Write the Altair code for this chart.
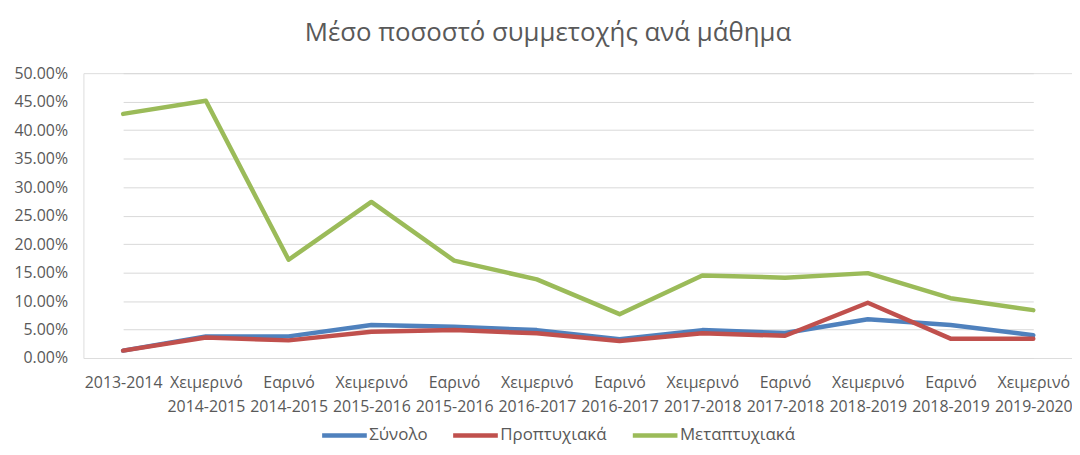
import altair as alt
import pandas as pd

categories = ["2013-2014", "Χειμερινό 2014-2015", "Εαρινό 2014-2015", "Χειμερινό 2015-2016",
              "Εαρινό 2015-2016", "Χειμερινό 2016-2017", "Εαρινό 2016-2017", "Χειμερινό 2017-2018",
              "Εαρινό 2017-2018", "Χειμερινό 2018-2019", "Εαρινό 2018-2019", "Χειμερινό 2019-2020"]
series_names = ["Σύνολο", "Προπτυχιακά", "Μεταπτυχιακά"]
synolo = [0.013, 0.038, 0.038, 0.058, 0.055, 0.049, 0.033, 0.049, 0.044, 0.068, 0.058, 0.040]
proptyxiaka = [0.013, 0.036, 0.031, 0.046, 0.049, 0.0435, 0.030, 0.0435, 0.039, 0.097, 0.034, 0.034]
metaptyxiaka = [0.4285, 0.4515, 0.1725, 0.274, 0.171, 0.138, 0.077, 0.145, 0.141, 0.149, 0.105, 0.084]
colors = ["#4F81BD", "#C0504D", "#9BBB59"]
y_ticks = [0.0, 0.05, 0.10, 0.15, 0.20, 0.25, 0.30, 0.35, 0.40, 0.45, 0.50]

rows = []
for name, vals in zip(series_names, [synolo, proptyxiaka, metaptyxiaka]):
    for i, (c, v) in enumerate(zip(categories, vals)):
        rows.append({"cat": c, "series": name, "value": v, "idx": i})
df = pd.DataFrame(rows)

FONT = "Open Sans"
GREY = "#595959"

x_enc = alt.X("cat:N", sort=categories, title=None,
              scale=alt.Scale(type="point", range=[40, 957], padding=0),
              axis=alt.Axis(labelAngle=0, labelExpr="split(datum.label, ' ')",
                            labelFont=FONT, labelFontSize=16, labelColor=GREY,
                            labelLineHeight=24, labelPadding=17, ticks=False,
                            domain=True, domainColor="#D9D9D9", labelOverlap=False,
                            labelBound=False, grid=False))
y_enc = alt.Y("value:Q", title=None,
              scale=alt.Scale(domain=[0, 0.5], nice=False),
              axis=alt.Axis(values=y_ticks, format=".2%", labelFont=FONT, labelFontSize=16,
                            labelColor=GREY, labelPadding=16, ticks=False, domain=False,
                            grid=True, gridColor="#D9D9D9", gridWidth=1))
color_enc = alt.Color("series:N",
                      scale=alt.Scale(domain=series_names, range=colors),
                      legend=alt.Legend(title=None, orient="none", direction="horizontal",
                                        legendX=238, legendY=340,
                                        symbolType="stroke", symbolSize=2025,
                                        symbolStrokeWidth=4.5, labelFont=FONT,
                                        labelFontSize=17, labelColor=GREY,
                                        labelOffset=0, columnPadding=16))

layers = []
for name in series_names:
    layers.append(
        alt.Chart(df).transform_filter(alt.datum.series == name)
        .mark_line(strokeWidth=4.5, strokeCap="round", strokeJoin="round")
        .encode(x=x_enc, y=y_enc, color=color_enc, order="idx:Q")
    )

chart = alt.layer(*layers).properties(
    width=996, height=287,
    title=alt.TitleParams("Μέσο ποσοστό συμμετοχής ανά μάθημα", font=FONT, fontSize=26,
                          fontWeight="normal", color=GREY, anchor="middle", dx=-30, dy=-15),
    autosize=alt.AutoSizeParams(type="none"),
    padding={"left": 76, "top": 64, "right": 0, "bottom": 88},
).configure_view(stroke=None).configure(background="white")

chart.save("out.html", embed_options={"renderer": "svg", "actions": False})
